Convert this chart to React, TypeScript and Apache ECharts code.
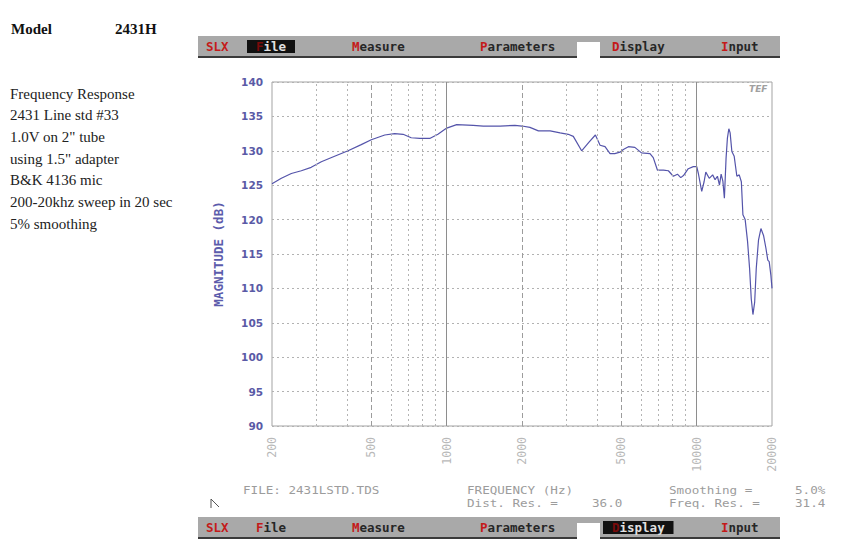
import React, { useEffect, useRef } from "react";
import * as echarts from "echarts";

// ---- data ----
const freqHz = [
  200, 218, 239, 262, 287, 315, 356, 403, 455, 499, 565, 619, 669, 721, 780, 855, 922,
  1000, 1096, 1276, 1400, 1634, 1874, 2000, 2152, 2326, 2592, 2841, 3062, 3208, 3464,
  3715, 3932, 4105, 4297, 4500, 4700, 4932, 5087, 5328, 5656, 6012, 6500, 6700, 6960,
  7360, 7700, 8060, 8370, 8630, 8850, 9250, 9690, 10000, 10150, 10470, 10700, 10870,
  11220, 11580, 11840, 12100, 12330, 12520, 12720, 12900, 13100, 13260, 13440, 13600,
  13820, 14120, 14470, 14790, 15080, 15300, 15620, 15970, 16270, 16520, 16780, 17050,
  17300, 17660, 18060, 18500, 18920, 19240, 19490, 19800, 20000,
];
const magnitudeDb = [
  125.2, 126.0, 126.7, 127.1, 127.6, 128.4, 129.2, 130.0, 130.9, 131.6, 132.3, 132.5, 132.4,
  131.9, 131.8, 131.8, 132.4, 133.3, 133.8, 133.7, 133.6, 133.6, 133.7, 133.6, 133.4, 132.9,
  132.9, 132.6, 132.4, 132.1, 130.0, 131.3, 132.3, 130.8, 130.6, 129.6, 129.6, 129.8, 130.2,
  130.6, 130.5, 129.7, 129.6, 129.0, 127.2, 127.2, 127.1, 126.3, 126.6, 126.1, 126.4, 127.4,
  127.7, 127.7, 126.7, 124.1, 125.5, 126.9, 126.0, 126.5, 125.8, 126.3, 125.0, 126.6, 125.6,
  123.1, 128.9, 131.8, 133.2, 132.6, 129.9, 129.2, 126.3, 126.5, 125.5, 120.7, 120.0, 116.8,
  112.9, 108.5, 106.2, 108.0, 112.9, 117.0, 118.7, 117.7, 115.8, 114.1, 113.9, 111.9, 110.0,
];
const yMin = 90;
const yMax = 140;
const yStep = 5;
const xMin = 200;
const xMax = 20000;
const xTickLabels = [200, 500, 1000, 2000, 5000, 10000, 20000];
const dottedGridHz = [300, 400, 600, 700, 800, 900, 3000, 4000, 6000, 7000, 8000, 9000];
const dashedGridHz = [500, 2000, 5000];
const solidGridHz = [1000, 10000];
const yAxisTitle = "MAGNITUDE (dB)";
const modelLabel = "Model";
const modelName = "2431H";
const notes = [
  "Frequency Response",
  "2431 Line std #33",
  '1.0V on 2" tube',
  'using 1.5" adapter',
  "B&K 4136 mic",
  "200-20khz sweep in 20 sec",
  "5% smoothing",
];
const menuItems = ["SLX", "File", "Measure", "Parameters", "Display", "Input"];
const footerLeft = "FILE: 2431LSTD.TDS";
const footerMid = ["FREQUENCY (Hz)", "Dist. Res. =", "36.0"];
const footerRight = ["Smoothing =", "Freq. Res. =", "5.0%", "31.4"];

const MONO = "DejaVu Sans Mono";
const SERIF = "Liberation Serif";

function menuBar(y: number, highlighted: string) {
  const xs = [206, 256, 352, 480, 612, 721];
  const els: any[] = [
    { type: "rect", shape: { x: 198, y, width: 582, height: 20 }, style: { fill: "#a9a9a9" } },
    { type: "rect", shape: { x: 198, y: y + 20, width: 582, height: 2 }, style: { fill: "#3a3a3a" } },
    { type: "rect", shape: { x: 577, y: y + 6, width: 23, height: 18 }, style: { fill: "#ffffff" } },
  ];
  menuItems.forEach((name, i) => {
    const isHi = name === highlighted;
    if (isHi) {
      els.push({
        type: "rect",
        shape: { x: xs[i] - 9, y: y + 4, width: name.length * 7.5 + 18, height: 13 },
        style: { fill: "#111111" },
      });
    }
    const text =
      name === "SLX" ? `{r|${name}}` : `{${isHi ? "h" : "r"}|${name[0]}}{${isHi ? "w" : "k"}|${name.slice(1)}}`;
    els.push({
      type: "text",
      x: xs[i],
      y: y + 10.5,
      style: {
        text,
        verticalAlign: "middle",
        rich: {
          r: { fill: "#c41a1a", fontFamily: MONO, fontSize: 12.5, fontWeight: "bold" },
          k: { fill: "#262626", fontFamily: MONO, fontSize: 12.5, fontWeight: "bold" },
          h: { fill: "#7a0a0a", fontFamily: MONO, fontSize: 12.5, fontWeight: "bold" },
          w: { fill: "#e0e0e0", fontFamily: MONO, fontSize: 12.5, fontWeight: "bold" },
        },
      },
    });
  });
  return els;
}

export default function App() {
  const ref = useRef<HTMLDivElement>(null);
  useEffect(() => {
    if (!ref.current) return;
    const chart = echarts.init(ref.current, null, { renderer: "svg" });
    const curve = freqHz.map((f, i) => [f, magnitudeDb[i]]);
    const footStyle = { fill: "#9c9c9c", fontFamily: MONO, fontSize: 10.5, verticalAlign: "middle" };
    const foot = (text: string, x: number, y: number) => ({
      type: "text", x, y, scaleX: 1.2, style: { text, ...footStyle },
    });
    const graphic: any[] = [
      {
        type: "text", x: 11, y: 29,
        style: { text: modelLabel, fill: "#111", fontFamily: SERIF, fontWeight: "bold", fontSize: 15, verticalAlign: "middle" },
      },
      {
        type: "text", x: 115, y: 29,
        style: { text: modelName, fill: "#111", fontFamily: SERIF, fontWeight: "bold", fontSize: 15, verticalAlign: "middle" },
      },
      ...notes.map((t, i) => ({
        type: "text", x: 10, y: 93.5 + i * 21.7,
        style: { text: t, fill: "#222", fontFamily: SERIF, fontSize: 15, verticalAlign: "middle" },
      })),
      ...menuBar(36, "File"),
      ...menuBar(517, "Display"),
      foot(footerLeft, 243, 490.5),
      foot(footerMid[0], 467, 490.5),
      foot(footerMid[1], 467, 503),
      foot(footerMid[2], 592, 503),
      foot(footerRight[0], 669, 490.5),
      foot(footerRight[1], 669, 503),
      foot(footerRight[2], 795, 490.5),
      foot(footerRight[3], 795, 503),
      {
        type: "polyline",
        shape: { points: [[219, 507], [211, 499], [211, 508]] },
        style: { stroke: "#555", lineWidth: 1, fill: null },
      },
      {
        type: "text", x: 749, y: 89,
        style: { text: "TEF", fill: "#a0a0a0", fontFamily: "DejaVu Sans", fontStyle: "italic", fontWeight: "bold", fontSize: 9, verticalAlign: "middle" },
      },
    ];

    chart.setOption({
      animation: false,
      graphic,
      grid: {
        left: 272, right: 70, top: 82, bottom: 121,
        show: true, borderColor: "#a3a3a3", borderWidth: 1, backgroundColor: "transparent",
      },
      xAxis: {
        type: "log", logBase: 10, min: xMin, max: xMax,
        axisLine: { show: false }, axisTick: { show: false }, axisLabel: { show: false },
        splitLine: { show: false }, minorSplitLine: { show: false },
      },
      yAxis: {
        type: "value", min: yMin, max: yMax, interval: yStep,
        name: yAxisTitle, nameLocation: "middle", nameGap: 47, nameRotate: 90,
        nameTextStyle: { color: "#5c5cac", fontFamily: MONO, fontWeight: "bold", fontSize: 12.5 },
        axisLine: { show: false }, axisTick: { show: false },
        axisLabel: { color: "#5a5aa6", fontFamily: "DejaVu Sans", fontWeight: "bold", fontSize: 10.5, margin: 9 },
        splitLine: { show: true, lineStyle: { color: "#b2b2b2", type: [2, 3], width: 1 } },
      },
      series: [
        {
          type: "scatter",
          z: 1,
          symbolSize: 0,
          silent: true,
          data: xTickLabels.map((v) => [v, yMin]),
          label: {
            show: true, position: "bottom", distance: 11, rotate: 90,
            align: "right", verticalAlign: "middle",
            formatter: (p: any) => String(p.value[0]),
            color: "#a6a6a6", fontFamily: MONO, fontSize: 11.5,
          },
          markLine: {
            silent: true, symbol: ["none", "none"], label: { show: false },
            data: [
              ...dottedGridHz.map((f) => ({ xAxis: f, lineStyle: { type: [2, 3], color: "#b4b4b4", width: 1 } })),
              ...dashedGridHz.map((f) => ({ xAxis: f, lineStyle: { type: [5, 3], color: "#9c9c9c", width: 1 } })),
              ...solidGridHz.map((f) => ({ xAxis: f, lineStyle: { type: "solid", color: "#8e8e8e", width: 1 } })),
            ],
          },
        },
        {
          type: "line",
          z: 3,
          data: curve,
          showSymbol: false,
          silent: true,
          lineStyle: { color: "#5454aa", width: 1.2 },
        },
      ],
    });
    return () => chart.dispose();
  }, []);
  return <div ref={ref} style={{ position: "absolute", left: 0, top: 0, width: 842, height: 547 }} />;
}
